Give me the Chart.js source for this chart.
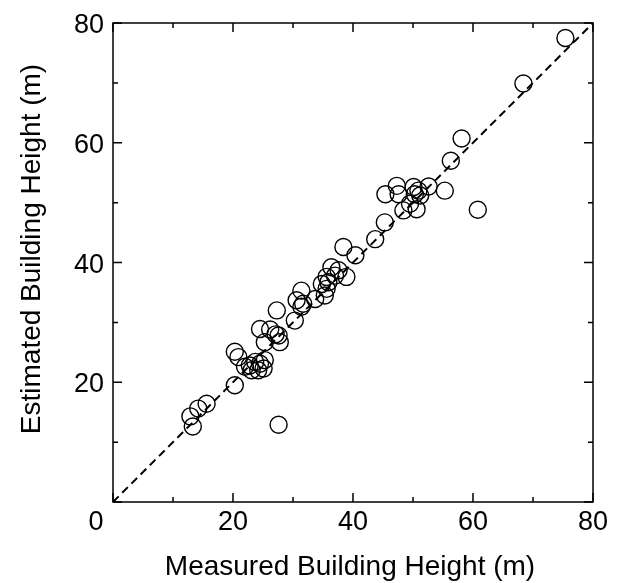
<!DOCTYPE html>
<html><head><meta charset="utf-8">
<script src="https://cdn.jsdelivr.net/npm/chart.js@4"></script>
<style>html,body{margin:0;padding:0;background:#fff}</style>
</head><body>
<canvas id="c" width="618" height="583"></canvas>
<script>
const measured = [75.4,68.4,58.1,56.3,55.3,60.8,52.6,45.4,47.3,47.6,50.1,50.9,50.3,51.2,48.4,49.5,50.6,45.3,43.7,38.4,40.4,36.4,37.6,38.9,35.6,37.0,34.8,35.9,35.6,35.3,31.4,33.7,30.6,31.7,31.4,27.3,30.3,24.5,26.2,27.6,27.1,25.3,27.8,20.3,20.9,22.0,23.1,23.7,24.5,25.3,25.1,24.2,22.8,20.3,15.6,14.2,12.9,13.3,27.6];
const estimated = [77.5,69.9,60.7,57.0,52.0,48.8,52.7,51.4,52.8,51.4,52.6,52.0,51.4,51.2,48.7,49.8,48.9,46.7,43.9,42.6,41.2,39.2,38.7,37.6,37.6,37.8,36.4,36.7,35.6,34.5,35.3,33.9,33.7,33.1,32.6,32.0,30.3,28.9,28.8,27.8,28.0,26.7,26.7,25.1,24.2,22.6,22.0,23.4,23.1,23.7,22.3,22.0,22.8,19.5,16.4,15.6,14.3,12.6,12.9];
const identityLine = [0, 80];
const tickValues = [0, 20, 40, 60, 80];
const tickLabels = ['0', '20', '40', '60', '80'];
const minorTickValues = [10, 30, 50, 70];
const xTitle = 'Measured Building Height (m)';
const yTitle = 'Estimated Building Height (m)';

const points = measured.map((v, i) => ({x: v, y: estimated[i]}));
const linePts = identityLine.map(v => ({x: v, y: v}));

const framePlugin = {
  id: 'frame',
  afterDraw(chart) {
    const ctx = chart.ctx, a = chart.chartArea;
    const xs = chart.scales.x, ys = chart.scales.y;
    ctx.save();
    ctx.strokeStyle = '#000';
    ctx.lineWidth = 1.5;
    ctx.strokeRect(a.left, a.top, a.right - a.left, a.bottom - a.top);
    ctx.beginPath();
    const tick = (v, len) => {
      const x = xs.getPixelForValue(v), y = ys.getPixelForValue(v);
      ctx.moveTo(x, a.bottom); ctx.lineTo(x, a.bottom - len);
      ctx.moveTo(x, a.top); ctx.lineTo(x, a.top + len);
      ctx.moveTo(a.left, y); ctx.lineTo(a.left + len, y);
      ctx.moveTo(a.right, y); ctx.lineTo(a.right - len, y);
    };
    tickValues.forEach(v => tick(v, 9));
    minorTickValues.forEach(v => tick(v, 5));
    ctx.stroke();
    ctx.fillStyle = '#000';
    ctx.font = '27px "Liberation Sans", Arial, sans-serif';
    ctx.textBaseline = 'alphabetic';
    tickValues.forEach((v, i) => {
      if (v === 0) return;
      ctx.textAlign = 'center';
      ctx.fillText(tickLabels[i], xs.getPixelForValue(v), a.bottom + 28);
      ctx.textAlign = 'right';
      ctx.fillText(tickLabels[i], a.left - 9, ys.getPixelForValue(v) + 10);
    });
    ctx.textAlign = 'center';
    ctx.fillText(tickLabels[0], a.left - 17, a.bottom + 28);
    ctx.font = '28px "Liberation Sans", Arial, sans-serif';
    ctx.fillText(xTitle, (a.left + a.right) / 2 - 3, 575);
    ctx.translate(40, 249);
    ctx.rotate(-Math.PI / 2);
    ctx.fillText(yTitle, 0, 0);
    ctx.restore();
  }
};

new Chart(document.getElementById('c'), {
  type: 'scatter',
  data: {
    datasets: [
      {data: points, pointRadius: 8.5, pointHoverRadius: 8.5, borderColor: '#000', borderWidth: 1.4, backgroundColor: 'rgba(0,0,0,0)', pointStyle: 'circle'},
      {type: 'line', data: linePts, showLine: true, borderColor: '#000', borderWidth: 2, borderDash: [8, 5], pointRadius: 0, fill: false}
    ]
  },
  options: {
    responsive: false,
    animation: false,
    devicePixelRatio: 1,
    layout: {padding: {left: 113, top: 23, right: 25, bottom: 81}},
    plugins: {legend: {display: false}, tooltip: {enabled: false}},
    scales: {
      x: {type: 'linear', min: 0, max: 80, display: false},
      y: {type: 'linear', min: 0, max: 80, display: false}
    }
  },
  plugins: [framePlugin]
});
</script>
</body></html>
